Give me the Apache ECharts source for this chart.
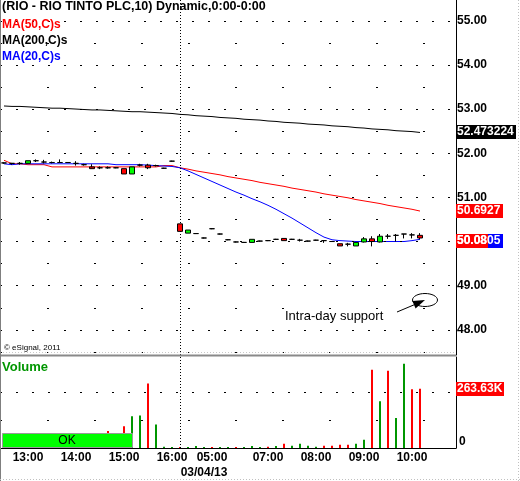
<!DOCTYPE html>
<html>
<head>
<meta charset="utf-8">
<script src="https://cdn.jsdelivr.net/npm/echarts@6/dist/echarts.min.js"></script>
<style>
  html, body { margin: 0; padding: 0; background: #fff; }
  #chart { width: 520px; height: 481px; }
</style>
</head>
<body>
<div id="chart"></div>
<script>
// 10 minute bars, RIO TINTO, two sessions
var times = ['12:30','12:40','12:50','13:00','13:10','13:20','13:30','13:40','13:50','14:00',
             '14:10','14:20','14:30','14:40','14:50','15:00','15:10','15:20','15:30','15:40',
             '15:50','16:00','04:20','04:30','04:40','04:50','05:00','05:10','05:30','05:50',
             '06:10','06:30','06:50','07:00','07:10','07:20','07:30','07:40','07:50','08:00',
             '08:10','08:20','08:30','08:40','08:50','09:00','09:10','09:20','09:30','09:40',
             '09:50','10:00','10:10','10:20','10:30','10:40','10:50'];
var tickLabels = ['13:00','14:00','15:00','16:00','05:00','07:00','08:00','09:00','10:00'];
var dateAt = '04:50', dateText = '03/04/13';
var dayStart = 22;

var opens  = [51.78,51.77,51.77,51.77,51.83,51.80,51.79,51.79,51.79,51.77,51.74,51.69,51.67,51.67,51.67,51.65,51.53,51.73,51.73,51.72,51.66,51.82,
              50.40,50.19,50.18,50.08,50.29,50.17,50.04,49.99,49.98,49.98,50.01,50.02,50.05,50.07,50.05,50.03,50.01,50.03,50.02,50.00,49.95,49.94,49.90,49.99,50.06,49.99,50.12,50.14,50.17,50.15,50.14];
var closes = [51.78,51.77,51.77,51.83,51.83,51.80,51.79,51.79,51.79,51.77,51.74,51.65,51.67,51.67,51.67,51.53,51.69,51.73,51.67,51.72,51.66,51.82,
              50.23,50.26,50.18,50.08,50.29,50.17,50.04,49.99,49.98,50.05,50.01,50.02,50.05,50.02,50.05,50.03,50.01,50.03,50.02,50.00,49.90,49.94,49.98,50.06,50.00,50.12,50.12,50.14,50.17,50.15,50.08];
var lows   = [51.76,51.74,51.74,51.77,51.80,51.77,51.77,51.78,51.78,51.72,51.72,51.65,51.64,51.65,51.66,51.53,51.53,51.70,51.64,51.70,51.65,51.81,
              50.23,50.19,50.17,50.07,50.28,50.16,50.03,49.98,49.97,49.98,50.00,50.01,50.04,50.02,50.04,50.00,50.00,50.02,49.97,49.99,49.90,49.89,49.90,49.98,49.89,49.98,50.06,50.00,50.07,50.07,50.05];
var highs  = [51.79,51.78,51.80,51.83,51.86,51.85,51.81,51.86,51.80,51.82,51.76,51.75,51.70,51.70,51.68,51.65,51.69,51.76,51.76,51.74,51.67,51.83,
              50.40,50.26,50.19,50.09,50.30,50.18,50.05,50.00,49.99,50.05,50.02,50.03,50.06,50.07,50.06,50.06,50.02,50.04,50.02,50.01,49.95,49.97,49.98,50.10,50.12,50.17,50.17,50.17,50.17,50.19,50.19];

var ma50  = [51.84,51.76,51.76,51.74,51.74,51.74,51.69,51.69,51.69,51.69,51.69,51.69,51.69,51.69,51.69,51.69,51.69,51.69,51.69,51.69,51.72,51.72,
             51.67,51.64,51.60,51.57,51.54,51.51,51.47,51.44,51.41,51.38,51.34,51.31,51.28,51.25,51.21,51.18,51.15,51.12,51.08,51.05,51.02,50.99,50.95,50.92,50.89,50.86,50.82,50.79,50.76,50.73,50.69];
var ma200 = [53.07,53.06,53.06,53.05,53.04,53.03,53.02,53.02,53.01,53.00,52.99,52.98,52.98,52.97,52.96,52.95,52.94,52.94,52.93,52.92,52.91,52.90,
             52.88,52.87,52.85,52.84,52.83,52.81,52.80,52.79,52.77,52.76,52.75,52.73,52.72,52.70,52.69,52.68,52.66,52.65,52.64,52.62,52.61,52.60,52.58,52.57,52.55,52.54,52.53,52.51,52.50,52.49,52.47];
var ma20  = [51.76,51.74,51.76,51.76,51.76,51.76,51.76,51.76,51.76,51.76,51.76,51.76,51.76,51.76,51.74,51.74,51.74,51.74,51.73,51.72,51.71,51.70,
             51.67,51.60,51.52,51.44,51.36,51.28,51.20,51.12,51.05,50.97,50.90,50.82,50.73,50.63,50.53,50.42,50.31,50.20,50.10,50.04,50.02,50.01,50.00,50.00,50.00,50.00,50.00,50.00,50.00,50.02,50.05];

// volume in thousands, direction +1 up tick / -1 down tick
var volume = [30,25,20,40,15,20,30,20,15,35,25,30,20,76,40,97,141,145,287,105,6,4,
              4,4,9,4,4,4,4,4,4,9,4,6,9,19,10,19,10,6,10,10,15,15,19,37,348,208,344,133,375,261,263.63];
var volDir = [1,-1,1,1,-1,1,-1,1,1,-1,1,-1,1,-1,-1,-1,1,1,-1,1,1,1,
              -1,1,1,1,-1,1,1,-1,1,1,1,-1,1,-1,1,1,1,1,-1,-1,-1,-1,1,1,-1,1,-1,1,1,-1,-1];

var priceLines = [48,49,50,51,52,53,54,55];
var priceHalfLines = [47.5,48.5,49.5,50.5,51.5,52.5,53.5,54.5];
var volLines = [250];
var volHalfLines = [125];

var FONT = "'Liberation Sans', Arial, sans-serif";
var chart = echarts.init(document.getElementById('chart'));

var candles = opens.map(function (o, i) {
  return [o, closes[i], lows[i], highs[i]];
});

function gridMarks(major, minor, dayIdx) {
  var d = [];
  major.forEach(function (v) { d.push({ yAxis: v, lineStyle: { type: [2, 14], width: 1.2 } }); });
  minor.forEach(function (v) { d.push({ yAxis: v, lineStyle: { type: [2, 45], width: 1.2 } }); });
  d.push({ xAxis: dayIdx, lineStyle: { type: [1, 2], width: 1 } });
  return {
    silent: true, symbol: ['none', 'none'], label: { show: false },
    lineStyle: { color: '#000', width: 1, opacity: 1 }, emphasis: { disabled: true },
    animation: false, data: d
  };
}

var option = {
  backgroundColor: '#fff',
  animation: false,
  grid: [
    { left: 0, top: 0, width: 456, height: 355 },
    { left: 0, top: 357, width: 456, height: 91 }
  ],
  xAxis: [
    { type: 'category', gridIndex: 0, data: times, boundaryGap: true,
      axisLine: { show: false }, axisTick: { show: false }, axisLabel: { show: false }, splitLine: { show: false } },
    { type: 'category', gridIndex: 1, data: times, boundaryGap: true,
      axisLine: { show: true, lineStyle: { color: '#000', width: 1 } }, axisTick: { show: false },
      splitLine: { show: false },
      axisLabel: {
        interval: 0, margin: 2, color: '#000', fontFamily: FONT, fontWeight: 'bold', fontSize: 12, lineHeight: 15,
        formatter: function (v) {
          if (tickLabels.indexOf(v) >= 0) return v;
          if (v === dateAt) return '\n' + dateText;
          return '';
        }
      } }
  ],
  yAxis: [
    { type: 'value', gridIndex: 0, position: 'right', min: 47.43, max: 55.47, splitNumber: 8,
      axisLine: { show: true, lineStyle: { color: '#000', width: 1 } }, axisTick: { show: false },
      splitLine: { show: false },
      axisLabel: { margin: 1, color: '#000', fontFamily: FONT, fontWeight: 'bold', fontSize: 12,
        formatter: function (v) { return Math.abs(v - Math.round(v)) < 1e-6 ? v.toFixed(2) : ''; } } },
    { type: 'value', gridIndex: 1, position: 'right', min: 0, max: 405,
      axisLine: { show: true, lineStyle: { color: '#000', width: 1 } }, axisTick: { show: false },
      splitLine: { show: false },
      axisLabel: { margin: 3, showMinLabel: true, verticalAlign: 'bottom', color: '#000', fontFamily: FONT,
        fontWeight: 'bold', fontSize: 12,
        formatter: function (v) { return v === 0 ? '0' : ''; } } }
  ],
  series: [
    { name: 'MA(50,C)s', type: 'line', xAxisIndex: 0, yAxisIndex: 0, data: ma50, symbol: 'none',
      lineStyle: { color: '#ff0000', width: 1 }, z: 3 },
    { name: 'MA(200,C)s', type: 'line', xAxisIndex: 0, yAxisIndex: 0, data: ma200, symbol: 'none',
      lineStyle: { color: '#000', width: 1 }, z: 3 },
    { name: 'MA(20,C)s', type: 'line', xAxisIndex: 0, yAxisIndex: 0, data: ma20, symbol: 'none',
      lineStyle: { color: '#0000ff', width: 1 }, z: 4 },
    { name: 'RIO', type: 'candlestick', xAxisIndex: 0, yAxisIndex: 0, data: candles, barWidth: 5, z: 6,
      itemStyle: { color: '#00ff00', color0: '#ff0000', borderColor: '#000', borderColor0: '#000',
                   borderColorDoji: '#000', borderWidth: 1 },
      markLine: gridMarks(priceLines, priceHalfLines, dayStart) },
    { name: 'Volume', type: 'bar', xAxisIndex: 1, yAxisIndex: 1, data: volume, barWidth: 2,
      itemStyle: { color: function (p) { return volDir[p.dataIndex] > 0 ? '#009600' : '#ff0000'; } },
      markLine: gridMarks(volLines, volHalfLines, dayStart) }
  ],
  graphic: [
    { id: 'title', type: 'text', x: 2, y: 7, z: 50, style: { text: '(RIO - RIO TINTO PLC,10) Dynamic,0:00-0:00',
      font: 'bold 12.5px ' + FONT, fill: '#000', textVerticalAlign: 'middle', verticalAlign: 'middle' } },
    { id: 'l50', type: 'text', x: 2, y: 25, z: 50, style: { text: 'MA(50,C)s', font: 'bold 12px ' + FONT,
      fill: '#ff0000', textVerticalAlign: 'middle', verticalAlign: 'middle' } },
    { id: 'l200', type: 'text', x: 2, y: 41, z: 50, style: { text: 'MA(200,C)s', font: 'bold 12px ' + FONT,
      fill: '#000', textVerticalAlign: 'middle', verticalAlign: 'middle' } },
    { id: 'l20', type: 'text', x: 2, y: 57, z: 50, style: { text: 'MA(20,C)s', font: 'bold 12px ' + FONT,
      fill: '#0000ff', textVerticalAlign: 'middle', verticalAlign: 'middle' } },
    { id: 'copy', type: 'text', x: 4, y: 348, z: 50, style: { text: '\u00a9 eSignal, 2011', font: '8px ' + FONT,
      fill: '#000', textVerticalAlign: 'middle', verticalAlign: 'middle' } },
    { id: 'sep1', type: 'line', z: 40, shape: { x1: 0, y1: 352.5, x2: 456, y2: 352.5 },
      style: { stroke: '#c8c8c8', lineWidth: 1, lineDash: [1, 2] } },
    { id: 'sep2', type: 'line', z: 40, shape: { x1: 0, y1: 355.5, x2: 456, y2: 355.5 },
      style: { stroke: '#8a8a8a', lineWidth: 2 } },
    { id: 'vol', type: 'text', x: 2, y: 367, z: 50, style: { text: 'Volume', font: 'bold 13px ' + FONT,
      fill: '#009600', textVerticalAlign: 'middle', verticalAlign: 'middle' } },
    { id: 'okbtn', type: 'rect', z: 60, shape: { x: 2.5, y: 433.5, width: 130, height: 14 },
      style: { fill: '#00ff00', stroke: '#9a9a9a', lineWidth: 1 } },
    { id: 'oktxt', type: 'text', x: 67, y: 441, z: 61, style: { text: 'OK', font: '12px ' + FONT, fill: '#000',
      textAlign: 'center', align: 'center', textVerticalAlign: 'middle', verticalAlign: 'middle' } },
    { id: 'ann', type: 'text', x: 285, y: 316, z: 50, style: { text: 'Intra-day support', font: '13px ' + FONT,
      fill: '#000', textVerticalAlign: 'middle', verticalAlign: 'middle' } },
    { id: 'arrow', type: 'line', z: 50, shape: { x1: 397, y1: 312, x2: 416, y2: 304 },
      style: { stroke: '#000', lineWidth: 1 } },
    { id: 'arrowhead', type: 'polygon', z: 50, shape: { points: [[425, 300], [412.4, 301], [415.6, 308.4]] },
      style: { fill: '#000' } },
    { id: 'ring', type: 'ellipse', z: 50, shape: { cx: 425, cy: 300, rx: 12.5, ry: 6.5 },
      style: { fill: 'none', stroke: '#000', lineWidth: 1 } },
    { id: 'leftb', type: 'line', z: 40, shape: { x1: 0.5, y1: 0, x2: 0.5, y2: 481 },
      style: { stroke: '#7f7f7f', lineWidth: 1 } },
    { id: 'rightb', type: 'line', z: 40, shape: { x1: 518.5, y1: 0, x2: 518.5, y2: 481 },
      style: { stroke: '#c0c0c0', lineWidth: 1, lineDash: [1, 2] } },
    { id: 'botb', type: 'line', z: 40, shape: { x1: 0, y1: 479.5, x2: 520, y2: 479.5 },
      style: { stroke: '#c0c0c0', lineWidth: 1, lineDash: [1, 2] } }
  ]
};

chart.setOption(option);

// value tags on the right axis, placed through the axis scales
function tag(id, yc, w, text, bg) {
  return [
    { id: id + 'Box', type: 'rect', z: 70, shape: { x: 456, y: Math.round(yc) - 7, width: w, height: 14 },
      style: { fill: bg } },
    { id: id + 'Txt', type: 'text', x: 457, y: Math.round(yc), z: 71,
      style: { text: text, font: 'bold 12px ' + FONT, fill: '#fff', textVerticalAlign: 'middle', verticalAlign: 'middle' } }
  ];
}
var last = closes.length - 1;
var yMa200 = chart.convertToPixel({ yAxisIndex: 0 }, ma200[last]);
var yMa50 = chart.convertToPixel({ yAxisIndex: 0 }, ma50[last]);
var yClose = chart.convertToPixel({ yAxisIndex: 0 }, closes[last]) + 3;
var yVol = chart.convertToPixel({ yAxisIndex: 1 }, volume[last]);

chart.setOption({
  graphic: [].concat(
    tag('t200', yMa200, 60, '52.473224', '#000'),
    tag('t50', yMa50, 47, '50.6927', '#ff0000'),
    tag('t20', yClose, 47, '50.0805', '#0000ff'),
    tag('tc', yClose, 32, '50.08', '#ff0000'),
    tag('tv', yVol, 48, '263.63K', '#ff0000')
  )
});
</script>
</body>
</html>
